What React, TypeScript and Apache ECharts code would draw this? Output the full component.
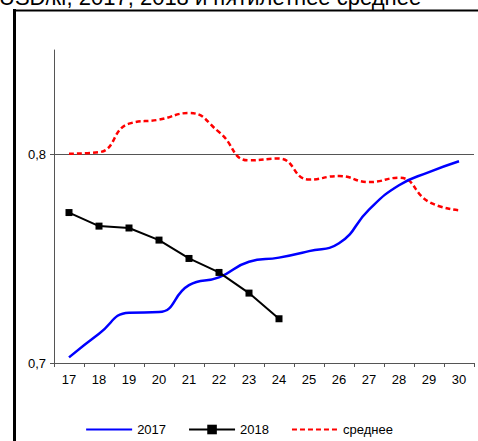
import React, { useEffect, useRef } from "react";
import * as echarts from "echarts";

const categories = ["17", "18", "19", "20", "21", "22", "23", "24", "25", "26", "27", "28", "29", "30"];
const series2017 = [0.7027, 0.714, 0.7241, 0.7244, 0.7373, 0.741, 0.7485, 0.7505, 0.7536, 0.7574, 0.7735, 0.7852, 0.7915, 0.7967];
const series2018 = [0.7721, 0.7656, 0.7647, 0.7589, 0.7501, 0.7434, 0.7335, 0.7212];
const seriesAvg = [0.8003, 0.801, 0.8147, 0.8166, 0.8198, 0.8107, 0.7971, 0.798, 0.7879, 0.7896, 0.7867, 0.7888, 0.7772, 0.7732];
const yTicks = [0.7, 0.8];
const titleText = "USD/кг, 2017, 2018 и пятилетнее среднее";
const font = "Liberation Sans, Arial, sans-serif";

export default function App() {
  const ref = useRef<HTMLDivElement>(null);
  useEffect(() => {
    if (!ref.current) return;
    const chart = echarts.init(ref.current, null, { renderer: "svg" });
    chart.setOption({
      animation: false,
      backgroundColor: "#fff",
      textStyle: { fontFamily: font },
      title: {
        text: titleText,
        left: -1,
        top: -14,
        padding: 0,
        textStyle: { fontFamily: font, fontSize: 22, fontWeight: "normal", color: "#000" },
      },
      graphic: [
        { type: "line", shape: { x1: 14.5, y1: 9, x2: 14.5, y2: 441 }, style: { stroke: "#000", lineWidth: 3 } },
        { type: "line", shape: { x1: 13, y1: 10.5, x2: 478, y2: 10.5 }, style: { stroke: "#000", lineWidth: 2 } },
      ],
      grid: { left: 54, right: 4, top: 50, bottom: 78 },
      legend: {
        top: 418,
        left: "center",
        itemWidth: 46,
        itemHeight: 12,
        itemGap: 22,
        textStyle: { fontFamily: font, fontSize: 13, color: "#000" },
        data: ["2017", "2018", "среднее"],
      },
      xAxis: {
        type: "category",
        data: categories,
        boundaryGap: true,
        axisLine: { lineStyle: { color: "#555", width: 1 } },
        axisTick: { show: true, length: 4, lineStyle: { color: "#555" } },
        axisLabel: { fontSize: 13, color: "#000", margin: 10, fontFamily: font },
        splitLine: { show: false },
      },
      yAxis: {
        type: "value",
        min: 0.7,
        max: 0.85,
        interval: 0.1,
        axisLine: { show: true, lineStyle: { color: "#555", width: 1 } },
        axisTick: { show: true, length: 4, customValues: yTicks, lineStyle: { color: "#555" } },
        axisLabel: {
          fontSize: 13,
          color: "#000",
          margin: 8,
          fontFamily: font,
          customValues: yTicks,
          formatter: (v: number) => v.toFixed(1).replace(".", ","),
        },
        splitLine: { show: false },
      },
      series: [
        {
          name: "2017",
          type: "line",
          data: series2017,
          smooth: true,
          showSymbol: false,
          symbol: "none",
          lineStyle: { color: "#0000ff", width: 2.5 },
          itemStyle: { color: "rgba(0,0,0,0)", borderWidth: 0 },
          z: 3,
          markLine: {
            silent: true,
            symbol: "none",
            label: { show: false },
            lineStyle: { color: "#555", width: 1.2, type: "solid" },
            data: [{ yAxis: 0.8 }],
            z: 1,
          },
        },
        {
          name: "2018",
          type: "line",
          data: series2018,
          symbol: "rect",
          symbolSize: 7,
          lineStyle: { color: "#000", width: 2 },
          itemStyle: { color: "#000" },
          z: 4,
        },
        {
          name: "среднее",
          type: "line",
          data: seriesAvg,
          smooth: true,
          showSymbol: false,
          symbol: "none",
          lineStyle: { color: "#ff0000", width: 2.5, type: [5, 3] },
          itemStyle: { color: "rgba(0,0,0,0)", borderWidth: 0 },
          z: 2,
        },
      ],
    });
    return () => chart.dispose();
  }, []);
  return (
    <div
      ref={ref}
      style={{ position: "fixed", left: 0, top: 0, width: 478, height: 441 }}
    />
  );
}
